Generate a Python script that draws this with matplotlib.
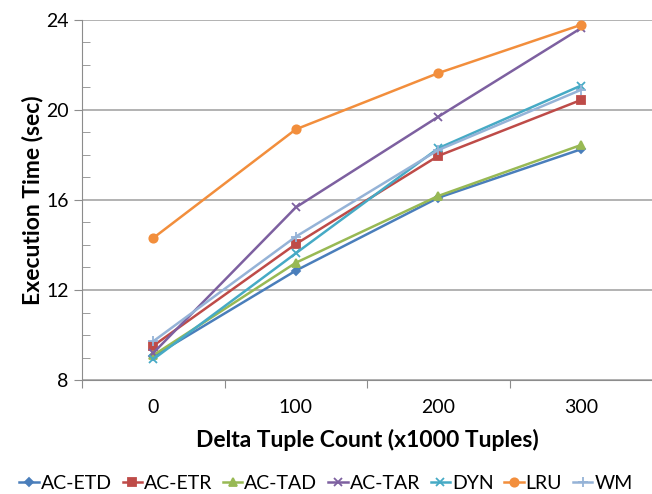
import matplotlib.pyplot as plt
from matplotlib.ticker import FixedLocator, MultipleLocator

categories = ["0", "100", "200", "300"]
series_names = ["AC-ETD", "AC-ETR", "AC-TAD", "AC-TAR", "DYN", "LRU", "WM"]
ac_etd = [9.05, 12.86, 16.10, 18.25]
ac_etr = [9.52, 14.04, 17.96, 20.44]
ac_tad = [9.10, 13.21, 16.18, 18.44]
ac_tar = [9.20, 15.67, 19.70, 23.63]
dyn = [8.92, 13.63, 18.30, 21.08]
lru = [14.31, 19.14, 21.64, 23.78]
wm = [9.72, 14.37, 18.22, 20.89]

series = [ac_etd, ac_etr, ac_tad, ac_tar, dyn, lru, wm]
colors = ["#4A7EBB", "#BE4B48", "#98B954", "#7D60A0", "#46AAC5", "#F28E3C", "#95B3D7"]
markers = ["D", "s", "^", "x", "x", "o", "+"]
msizes = [4, 6, 6, 6, 6, 6, 7]

plt.rcParams['font.family'] = ['Lato', 'DejaVu Sans']

fig = plt.figure(figsize=(6.52, 4.94), dpi=100)
ax = fig.add_axes([82 / 652, 1 - 380 / 494, 1 - 82 / 652, 360 / 494])

x = list(range(len(categories)))
for name, vals, c, m, ms in zip(series_names, series, colors, markers, msizes):
    ax.plot(x, vals, color=c, marker=m, markersize=ms, linewidth=1.8,
            markeredgewidth=1.3, label=name)

ax.set_ylim(8, 24)
ax.set_xlim(-0.5, 3.5)
ax.yaxis.set_major_locator(MultipleLocator(4))
ax.yaxis.set_minor_locator(MultipleLocator(1))
ax.grid(axis='y', which='major', color='#A6A6A6', linewidth=1.2)
ax.set_axisbelow(True)

# category axis: ticks sit between the categories
ax.xaxis.set_major_locator(FixedLocator([-0.5, 0.5, 1.5, 2.5]))
ax.set_xticklabels([])
ax.xaxis.set_minor_locator(FixedLocator(x))
ax.set_xticklabels(categories, minor=True)
ax.tick_params(axis='x', which='major', length=6, color='#8C8C8C', direction='out')
ax.tick_params(axis='x', which='minor', length=0, labelsize=14, pad=14)
ax.tick_params(axis='y', which='major', length=6, color='#8C8C8C', labelsize=14, direction='out')
ax.tick_params(axis='y', which='minor', length=6, color='#8C8C8C', direction='in')

for side in ['top', 'right']:
    ax.spines[side].set_visible(False)
ax.spines['left'].set_color('#8C8C8C')
ax.spines['bottom'].set_color('#8C8C8C')

ax.set_ylabel("Execution Time (sec)", fontsize=16.5, fontweight='bold', labelpad=2)
ax.set_xlabel("Delta Tuple Count (x1000 Tuples)", fontsize=16.5, fontweight='bold', labelpad=9)

fig.legend(loc='lower center', bbox_to_anchor=(0.5, -0.02), ncol=7, frameon=False,
           fontsize=14, handlelength=1.0, handletextpad=0.1, columnspacing=0.55,
           borderaxespad=0.2)

fig.savefig("out.png", dpi=100)
